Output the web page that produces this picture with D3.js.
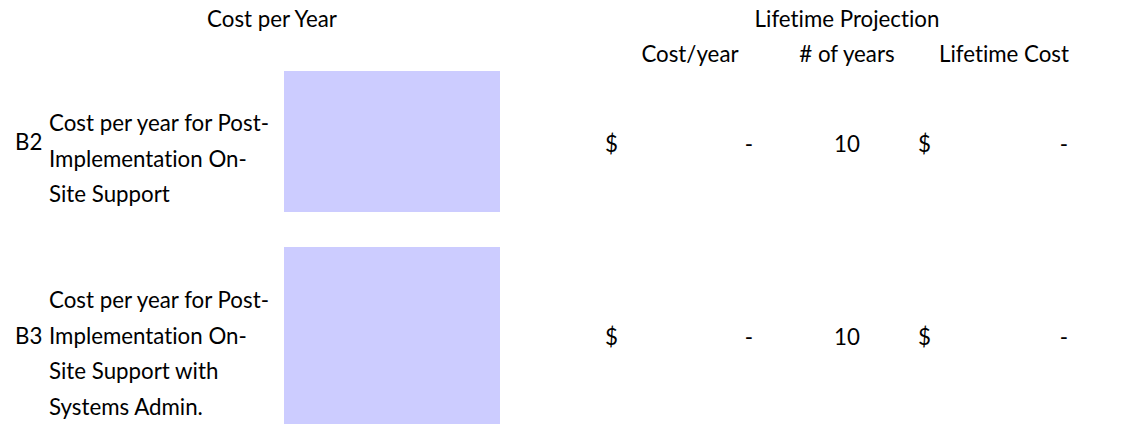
<!DOCTYPE html>
<html><head><meta charset="utf-8">
<script src="https://cdn.jsdelivr.net/npm/d3@7"></script>
<style>
html,body{margin:0;padding:0;background:#fff;}
svg text{font-family:Lato,"Open Sans",sans-serif;fill:#000;font-variant-ligatures:none;font-feature-settings:"liga" 0;}
</style></head>
<body><svg id="chart" width="1131" height="426"></svg>
<script>
// ---- data ----
const rowIds = ["B2", "B3"];
const rowLabels = [
  ["Cost per year for Post-", "Implementation On-", "Site Support"],
  ["Cost per year for Post-", "Implementation On-", "Site Support with", "Systems Admin."]
];
const costPerYear = [0, 0];
const numYears = [10, 10];
const lifetimeCost = [0, 0];
const columnHeaders = ["Cost/year", "# of years", "Lifetime Cost"];
const sectionTitles = ["Cost per Year", "Lifetime Projection"];

// ---- layout ----
const svg = d3.select("#chart");
const fontSize = 22.3;
const rowTop = d3.scaleOrdinal().domain(rowIds).range([71, 247]);
const rowBottom = d3.scaleOrdinal().domain(rowIds).range([212, 424]);
const rowBase = d3.scaleOrdinal().domain(rowIds).range([152, 345]);
const lineStart = d3.scaleOrdinal().domain(rowIds).range([131, 308]);
const lineGap = 35.5;
const inputX = d3.scaleLinear().domain([0, 1]).range([284, 500]);
const colCenter = d3.scalePoint().domain(columnHeaders).range([690, 1004]);

const acct = v => v === 0 ? "-" : d3.format(",.2f")(v);

// section titles
svg.append("text").attr("x", 272).attr("y", 27).attr("text-anchor", "middle")
  .attr("font-size", fontSize).text(sectionTitles[0]);
svg.append("text").attr("x", 847).attr("y", 27).attr("text-anchor", "middle")
  .attr("font-size", fontSize).text(sectionTitles[1]);

// column headers
svg.selectAll("text.colh").data(columnHeaders).join("text")
  .attr("class", "colh").attr("x", d => colCenter(d)).attr("y", 62)
  .attr("text-anchor", "middle").attr("font-size", fontSize).text(d => d);

const rows = svg.selectAll("g.row").data(rowIds.map((id, i) => ({
  id, lines: rowLabels[i], cost: costPerYear[i], years: numYears[i], life: lifetimeCost[i]
}))).join("g").attr("class", "row");

// input cells
rows.append("rect")
  .attr("x", inputX(0)).attr("width", inputX(1) - inputX(0))
  .attr("y", d => rowTop(d.id)).attr("height", d => rowBottom(d.id) - rowTop(d.id))
  .attr("fill", "#ccccff");

// row ids
rows.append("text").attr("x", 15).attr("y", d => d.id === "B2" ? 150 : lineStart(d.id) + lineGap)
  .attr("font-size", fontSize).text(d => d.id);

// row labels
rows.each(function (d) {
  d3.select(this).selectAll("text.lbl").data(d.lines).join("text")
    .attr("class", "lbl").attr("x", 49)
    .attr("y", (l, j) => lineStart(d.id) + j * lineGap)
    .attr("font-size", fontSize).text(l => l);
});

// values
rows.append("text").attr("x", 605).attr("y", d => rowBase(d.id)).attr("font-size", fontSize).text("$");
rows.append("text").attr("x", 753).attr("y", d => rowBase(d.id)).attr("text-anchor", "end")
  .attr("font-size", fontSize).text(d => acct(d.cost));
rows.append("text").attr("x", 847).attr("y", d => rowBase(d.id)).attr("text-anchor", "middle")
  .attr("font-size", fontSize).text(d => d.years);
rows.append("text").attr("x", 918).attr("y", d => rowBase(d.id)).attr("font-size", fontSize).text("$");
rows.append("text").attr("x", 1068).attr("y", d => rowBase(d.id)).attr("text-anchor", "end")
  .attr("font-size", fontSize).text(d => acct(d.life));
</script></body></html>
